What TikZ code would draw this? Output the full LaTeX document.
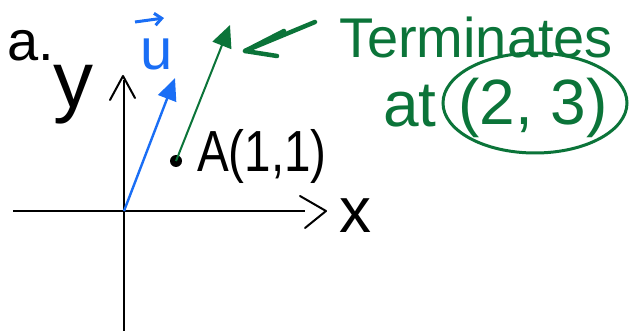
\documentclass[tikz,border=0pt]{standalone}
\usepackage{fontspec}
\setmainfont{Liberation Sans}
\usetikzlibrary{arrows.meta}
\definecolor{pen}{HTML}{0B7439}
\definecolor{bl}{HTML}{1A6EF5}
\tikzset{
  txt/.style={inner sep=0pt, anchor=center},
  axisline/.style={draw=black, line width=2pt},
  vecblue/.style={draw=bl, line width=2.4pt, -{Triangle[length=22pt,width=19pt]}},
  vecgreen/.style={draw=pen, line width=2pt, -{Triangle[length=22pt,width=20pt]}},
  pointer/.style={draw=pen, line width=4.5pt, line cap=round, line join=round},
}
\newcommand{\fs}[1]{\fontsize{#1}{#1}\selectfont}
\begin{document}
\begin{tikzpicture}[x=1pt,y=-1pt]
\useasboundingbox[fill=white] (0,0) rectangle (637,331);
% axes
\coordinate (O) at (124,211);
\coordinate (xl) at (13,211);
\coordinate (xr) at (305,211);
\coordinate (yb) at (124,331);
\coordinate (yt) at (124,80);
\draw[axisline] (xl) -- (xr);
\draw[axisline] (yb) -- (yt);
\draw[axisline, line join=round, line cap=round] (300,196) -- (326,211) -- (305,228);
\draw[axisline, line join=round, line cap=round] (110,100) -- (123,76) -- (135,98);
% labels
\node[txt] (a) at (31,46) {\fs{56}a.};
\node[txt] (ylab) at (73,95) {\fs{80}y};
\node[txt] (xlab) at (355,216) {\fs{64}x};
% vector u
\coordinate (U) at (175,78);
\draw[vecblue] (O) -- (U);
\node[txt, text=bl] (ulab) at (157,54) {\fs{58}u};
\coordinate (ua) at (135,22);
\coordinate (ub) at (164,18);
\draw[draw=bl, line width=3pt, -{Straight Barb[length=7pt,width=12pt]}] (ua) -- (ub);
% point A and green vector
\node[circle, fill=black, minimum size=12pt, inner sep=0pt] (A) at (176,161) {};
\coordinate (T) at (230,25);
\draw[vecgreen] (A.center) -- (T);
\node[txt, anchor=west, xscale=0.82] (Alab) at (197,156) {\fs{58}A(1,1)};
% pointer
\coordinate (p1) at (315,22);
\coordinate (p2) at (245,51);
\draw[pointer] (p1) -- (p2);
\draw[pointer] (284,31) -- (p2) -- (277,56);
% green text
\node[txt, text=pen] (term) at (476,37) {\fs{56}Terminates};
\node[txt, text=pen] (at) at (410,106) {\fs{64}at};
\node[txt, text=pen] (pt) at (533,108) {\fs{64}(2, 3)};
\draw[draw=pen, line width=3pt] (535,103) ellipse [x radius=92, y radius=50];
\end{tikzpicture}
\end{document}
